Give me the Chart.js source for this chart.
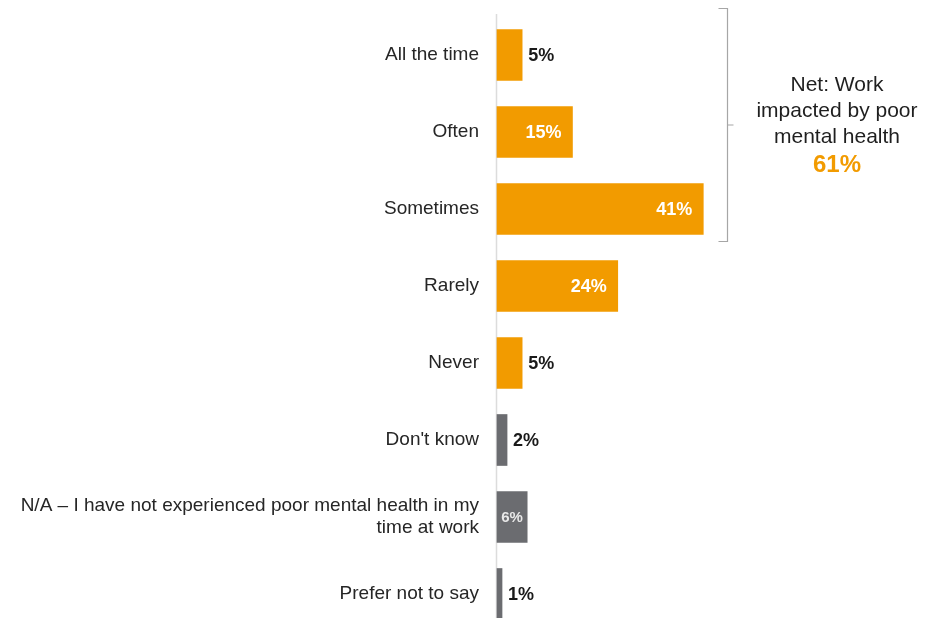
<!DOCTYPE html>
<html>
<head>
<meta charset="utf-8">
<script src="https://cdn.jsdelivr.net/npm/chart.js@4.4.1/dist/chart.umd.min.js"></script>
<style>
  html, body { margin: 0; padding: 0; background: #fff; overflow: hidden; }
  #wrap { width: 944px; height: 618px; }
</style>
</head>
<body>
<div id="wrap"><canvas id="chart"></canvas></div>
<script>
// values (percent of respondents)
const categories = [
    'All the time',
    'Often',
    'Sometimes',
    'Rarely',
    'Never',
    "Don't know",
    ['N/A \u2013 I have not experienced poor mental health in my', 'time at work'],
    'Prefer not to say'
];
const values = [5, 15, 41, 24, 5, 2, 6, 1];
const barGroups = ['answer', 'answer', 'answer', 'answer', 'answer', 'other', 'other', 'other'];

const netLines = ['Net: Work', 'impacted by poor', 'mental health'];
const netValue = '61%';
const netRange = [0, 2]; // bars covered by the bracket

const ORANGE = '#f29b00';
const GREY = '#6b6c70';
const FONT = '"Liberation Sans", Arial, sans-serif';

// value labels next to / inside the bars
const valueLabels = {
    id: 'valueLabels',
    afterDatasetsDraw(chart) {
        const ctx = chart.ctx;
        const meta = chart.getDatasetMeta(0);
        ctx.save();
        ctx.textBaseline = 'middle';
        meta.data.forEach((bar, i) => {
            const v = values[i];
            const w = bar.x - bar.base;
            if (w >= 60) {
                ctx.font = 'bold 18px ' + FONT;
                ctx.fillStyle = '#ffffff';
                ctx.textAlign = 'right';
                ctx.fillText(v + '%', bar.x - 11, bar.y + 1);
            } else if (w >= 28) {
                // narrow bar: smaller label centred inside
                ctx.font = 'bold 15px ' + FONT;
                ctx.fillStyle = '#e8e8e8';
                ctx.textAlign = 'center';
                ctx.fillText(v + '%', (bar.x + bar.base) / 2, bar.y + 1);
            } else {
                ctx.font = 'bold 18px ' + FONT;
                ctx.fillStyle = '#1a1a1a';
                ctx.textAlign = 'left';
                ctx.fillText(v + '%', bar.x + 6, bar.y + 1);
            }
        });
        ctx.restore();
    }
};

// axis line, bracket and net text
const decorations = {
    id: 'decorations',
    beforeDatasetsDraw(chart) {
        const ctx = chart.ctx;
        const x0 = chart.scales.x.getPixelForValue(0);
        ctx.save();
        ctx.strokeStyle = '#dcdcdc';
        ctx.lineWidth = 1.5;
        ctx.beginPath();
        ctx.moveTo(x0 - 0.5, 14);
        ctx.lineTo(x0 - 0.5, chart.height);
        ctx.stroke();
        ctx.restore();
    },
    afterDraw(chart) {
        const ctx = chart.ctx;
        const meta = chart.getDatasetMeta(0);
        const first = meta.data[netRange[0]];
        const last = meta.data[netRange[1]];
        const top = first.y - first.height / 2 - 21;
        const bottom = last.y + last.height / 2 + 7;
        const mid = (top + bottom) / 2;
        const bx = 727.5;

        ctx.save();
        ctx.strokeStyle = '#a6a6a6';
        ctx.lineWidth = 1.2;
        ctx.beginPath();
        ctx.moveTo(bx - 9, top);
        ctx.lineTo(bx, top);
        ctx.lineTo(bx, bottom);
        ctx.lineTo(bx - 9, bottom);
        ctx.moveTo(bx, mid);
        ctx.lineTo(bx + 6, mid);
        ctx.stroke();

        const cx = 837;
        ctx.textAlign = 'center';
        ctx.textBaseline = 'middle';
        ctx.fillStyle = '#1f1f1f';
        ctx.font = '21px ' + FONT;
        netLines.forEach((line, i) => {
            ctx.fillText(line, cx, 85 + i * 26);
        });
        ctx.fillStyle = ORANGE;
        ctx.font = 'bold 24px ' + FONT;
        ctx.fillText(netValue, cx, 85 + netLines.length * 26 + 2);
        ctx.restore();
    }
};

new Chart(document.getElementById('chart'), {
    type: 'bar',
    data: {
        labels: categories,
        datasets: [{
            data: values,
            backgroundColor: barGroups.map(g => g === 'answer' ? ORANGE : GREY),
            borderWidth: 0,
            barThickness: 51,
            clip: false
        }]
    },
    options: {
        indexAxis: 'y',
        responsive: true,
        maintainAspectRatio: false,
        animation: false,
        layout: {
            padding: { top: 55, bottom: 24, right: 47, left: 0 }
        },
        plugins: {
            legend: { display: false },
            tooltip: { enabled: false }
        },
        scales: {
            x: {
                min: 0,
                max: 79.5,
                display: false
            },
            y: {
                offset: false,
                grid: { display: false, offset: false },
                border: { display: false },
                afterFit(scale) { scale.width = 497; },
                ticks: {
                    color: '#262626',
                    padding: 10,
                    font: { family: FONT, size: 19, lineHeight: 1.15 }
                }
            }
        }
    },
    plugins: [decorations, valueLabels]
});
</script>
</body>
</html>
